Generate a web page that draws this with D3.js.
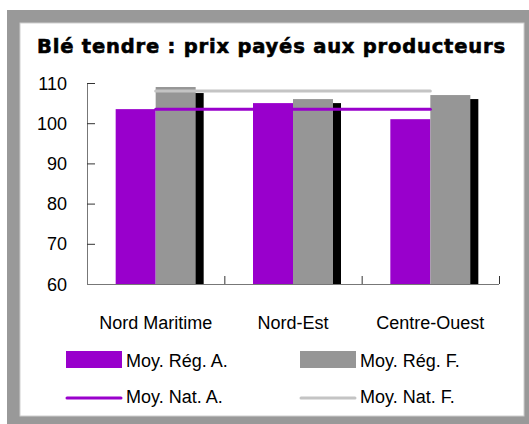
<!DOCTYPE html>
<html>
<head>
<meta charset="utf-8">
<script src="https://cdn.jsdelivr.net/npm/d3@7"></script>
<style>
  body { margin: 0; background: #fff; }
  text { font-family: "Liberation Sans", Arial, sans-serif; fill: #000; }
</style>
</head>
<body>
<svg id="chart" width="529" height="424"></svg>
<script>
// data
const categories = ["Nord Maritime", "Nord-Est", "Centre-Ouest"];
const regA = [103.5, 105, 101];     // Moy. Rég. A. (purple bars)
const regF = [109, 106, 107];       // Moy. Rég. F. (gray bars)
const third = [107.5, 105, 106];    // black bars, half hidden behind gray
const natA = 103.5;                 // Moy. Nat. A.
const natF = 108;                   // Moy. Nat. F.
const yTicks = [60, 70, 80, 90, 100, 110];

const svg = d3.select("#chart");

// frame
svg.append("rect").attr("x", 7).attr("y", 10).attr("width", 540).attr("height", 430).attr("fill", "#999");
svg.append("rect").attr("x", 20).attr("y", 23).attr("width", 504).attr("height", 393)
  .attr("fill", "#fff").attr("stroke", "#cfcfcf").attr("stroke-width", 1);

// title (heavy face, stretched to the width seen in the picture)
svg.append("text")
  .attr("x", 37).attr("y", 53)
  .attr("textLength", 468).attr("lengthAdjust", "spacing")
  .style("font-family", "'DejaVu Sans', sans-serif")
  .style("font-weight", "bold").style("font-size", "19.5px")
  .style("stroke", "#000").style("stroke-width", 0.6)
  .text("Blé tendre : prix payés aux producteurs");

const x = d3.scaleBand().domain(categories).range([87, 499]).padding(0);
const y = d3.scaleLinear().domain([60, 110]).range([284, 83]);
const bw = 40;
const cx = c => x(c) + x.bandwidth() / 2;

// bars: black behind, then purple, then gray
svg.selectAll(".bar3").data(categories).join("rect")
  .attr("x", c => cx(c) + 8).attr("width", bw)
  .attr("y", (c, i) => y(third[i])).attr("height", (c, i) => y(60) - y(third[i]))
  .attr("fill", "#000");
svg.selectAll(".barA").data(categories).join("rect")
  .attr("x", c => cx(c) - bw).attr("width", bw)
  .attr("y", (c, i) => y(regA[i])).attr("height", (c, i) => y(60) - y(regA[i]))
  .attr("fill", "#9900cc");
svg.selectAll(".barF").data(categories).join("rect")
  .attr("x", c => cx(c)).attr("width", bw)
  .attr("y", (c, i) => y(regF[i])).attr("height", (c, i) => y(60) - y(regF[i]))
  .attr("fill", "#969696");

// national averages
const line = d3.line().x(d => cx(d[0])).y(d => y(d[1]));
svg.append("path").datum(categories.map(c => [c, natF])).attr("d", line)
  .attr("fill", "none").attr("stroke", "#c4c4c4").attr("stroke-width", 3).attr("stroke-linecap", "round");
svg.append("path").datum(categories.map(c => [c, natA])).attr("d", line)
  .attr("fill", "none").attr("stroke", "#9900cc").attr("stroke-width", 3).attr("stroke-linecap", "round");

// y axis
const yAxis = svg.append("g").attr("transform", "translate(87,0)")
  .call(d3.axisRight(y).tickValues(yTicks).tickSize(8).tickFormat(""));
yAxis.select(".domain").attr("stroke", "#777").attr("d", "M0.5," + y(110) + "V" + y(60));
yAxis.selectAll(".tick line").attr("stroke", "#333");
svg.selectAll(".ylab").data(yTicks).join("text")
  .attr("x", 67).attr("y", d => y(d) + 6.5)
  .attr("text-anchor", "end").style("font-size", "18px")
  .text(d => d);

// x axis
const xAxis = svg.append("g").attr("transform", "translate(0,284)");
xAxis.append("line").attr("x1", 87).attr("x2", 499).attr("y1", 0.5).attr("y2", 0.5).attr("stroke", "#777");
xAxis.selectAll(".xt").data(categories).join("line")
  .attr("x1", c => x(c) + x.bandwidth() + 0.5).attr("x2", c => x(c) + x.bandwidth() + 0.5)
  .attr("y1", 0).attr("y2", -8).attr("stroke", "#333");
svg.selectAll(".xlab").data(categories).join("text")
  .attr("x", c => cx(c)).attr("y", 329)
  .attr("text-anchor", "middle").style("font-size", "18px")
  .text(c => c);

// legend
const legend = [
  { name: "Moy. Rég. A.", type: "box", color: "#9900cc", x: 66, y: 351 },
  { name: "Moy. Rég. F.", type: "box", color: "#969696", x: 300, y: 351 },
  { name: "Moy. Nat. A.", type: "line", color: "#9900cc", x: 66, y: 382 },
  { name: "Moy. Nat. F.", type: "line", color: "#c4c4c4", x: 300, y: 382 }
];
const lg = svg.selectAll(".leg").data(legend).join("g");
lg.filter(d => d.type === "box").append("rect")
  .attr("x", d => d.x).attr("y", d => d.y).attr("width", 56).attr("height", 17).attr("fill", d => d.color);
lg.filter(d => d.type === "line").append("line")
  .attr("x1", d => d.x + 1).attr("x2", d => d.x + 55).attr("y1", d => d.y + 16).attr("y2", d => d.y + 16)
  .attr("stroke", d => d.color).attr("stroke-width", 3).attr("stroke-linecap", "round");
lg.append("text")
  .attr("x", d => d.x + 60).attr("y", d => d.y + 16 + (d.type === "line" ? 5 : 0))
  .style("font-size", "18px")
  .text(d => d.name);
</script>
</body>
</html>
